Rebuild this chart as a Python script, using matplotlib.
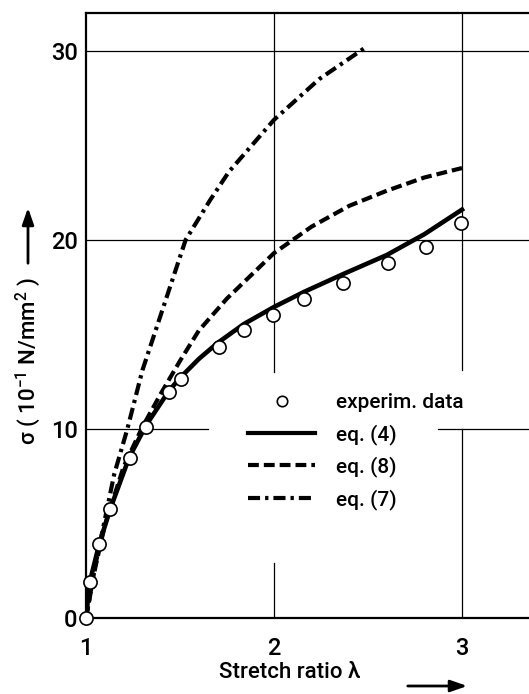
import matplotlib
matplotlib.use("Agg")
import matplotlib.pyplot as plt
from matplotlib.lines import Line2D

plt.rcParams['font.family'] = ['Roboto', 'DejaVu Sans']
plt.rcParams['font.weight'] = 'medium'
plt.rcParams['mathtext.fontset'] = 'custom'
plt.rcParams['mathtext.rm'] = 'Roboto:medium'

# experimental data
exp_x = [1.0, 1.02, 1.07, 1.13, 1.234, 1.32, 1.443, 1.503, 1.709, 1.84,
         1.993, 2.161, 2.369, 2.608, 2.809, 2.993]
exp_y = [0.0, 1.92, 3.9, 5.75, 8.45, 10.12, 11.97, 12.63, 14.35, 15.24,
         16.03, 16.86, 17.71, 18.77, 19.6, 20.9]

# eq. (4)
eq4_x = [1.0, 1.02, 1.07, 1.13, 1.23, 1.32, 1.44, 1.5, 1.6, 1.7, 1.84, 2.0,
         2.16, 2.37, 2.6, 2.8, 3.0]
eq4_y = [0.0, 1.9, 3.9, 5.8, 8.5, 10.2, 12.0, 12.7, 13.7, 14.55, 15.55, 16.45,
         17.25, 18.2, 19.2, 20.3, 21.6]

# eq. (8)
eq8_x = [1.0, 1.05, 1.1, 1.2, 1.3, 1.4, 1.5, 1.6, 1.75, 2.0, 2.2, 2.4, 2.6,
         2.8, 3.0]
eq8_y = [0.0, 2.7, 4.9, 8.0, 10.1, 11.9, 13.6, 15.2, 16.9, 19.3, 20.7, 21.8,
         22.6, 23.3, 23.8]

# eq. (7)
eq7_x = [1.0, 1.05, 1.1, 1.15, 1.22, 1.3, 1.4, 1.53, 1.66, 1.76, 2.0, 2.24,
         2.49]
eq7_y = [0.0, 2.8, 5.2, 7.6, 10.0, 13.1, 16.1, 20.0, 22.1, 23.6, 26.35,
         28.5, 30.2]

xticks = [1, 2, 3]
yticks = [0, 10, 20, 30]
legend_labels = ['experim. data', 'eq. (4)', 'eq. (8)', 'eq. (7)']

DASH8 = (2.6, 1.2)
DASH7 = (2.9, 1.2, 0.8, 1.2)

W, H = 529, 694
fig = plt.figure(figsize=(W / 100, H / 100), dpi=100)
ax = fig.add_axes([86 / W, (H - 618) / H, 1 - 86 / W, (618 - 13) / H])
xmax = 1 + (W - 86) / 188.0
ax.set_xlim(1, xmax)
ax.set_ylim(0, 32)

for s in ['left', 'top', 'bottom']:
    ax.spines[s].set_linewidth(1.6)
ax.spines['right'].set_visible(False)

# grid lines with gaps where the legend sits
def yf(v):
    return v / 32.0

def xf(v):
    return (v - 1) / (xmax - 1)

gkw = dict(color='black', lw=0.9, zorder=1)
ax.axhline(20, **gkw)
ax.axhline(30, **gkw)
ax.axhline(10, xmin=0, xmax=xf(1.65), **gkw)
ax.axhline(10, xmin=xf(2.87), xmax=1, **gkw)
ax.axvline(2, ymin=0, ymax=yf(2.9), **gkw)
ax.axvline(2, ymin=yf(13.0), ymax=1, **gkw)
ax.axvline(3, ymin=0, ymax=yf(10.0), **gkw)
ax.axvline(3, ymin=yf(13.1), ymax=1, **gkw)

ax.plot(eq7_x, eq7_y, color='black', lw=3.0, dashes=DASH7,
        dash_capstyle='butt', zorder=3)
ax.plot(eq8_x, eq8_y, color='black', lw=3.0, dashes=DASH8,
        dash_capstyle='butt', zorder=3)
ax.plot(eq4_x, eq4_y, color='black', lw=3.3, zorder=4)
ax.plot(exp_x, exp_y, ls='none', marker='o', ms=9.5, mfc='white',
        mec='black', mew=1.2, zorder=5, clip_on=False)

ax.set_xticks(xticks)
ax.set_yticks(yticks)
ax.set_xticklabels([str(t) for t in xticks])
ax.set_yticklabels([str(t) for t in yticks])
ax.tick_params(axis='both', length=0, labelsize=17)
ax.tick_params(axis='x', pad=14)
ax.tick_params(axis='y', pad=6)

handles = [
    Line2D([], [], ls='none', marker='o', ms=7.5, mfc='white', mec='black', mew=1.2),
    Line2D([], [], color='black', lw=3.0),
    Line2D([], [], color='black', lw=3.0, dashes=DASH8, dash_capstyle='butt'),
    Line2D([], [], color='black', lw=3.0, dashes=DASH7, dash_capstyle='butt'),
]
leg = ax.legend(handles, legend_labels, loc='upper left',
                bbox_to_anchor=(238 / W, (H - 383) / H),
                bbox_transform=fig.transFigure, frameon=False,
                fontsize=15, handlelength=3.2, handletextpad=1.0,
                labelspacing=0.55, borderpad=0)

fig.text(290 / W, (H - 673) / H, 'Stretch ratio λ', fontsize=16,
         ha='center', va='center')
ax.annotate('', xy=(470, H - 686), xytext=(405, H - 686),
            xycoords='figure pixels', textcoords='figure pixels',
            arrowprops=dict(arrowstyle='-|>,head_length=1.0,head_width=0.35',
                            color='black', lw=2.0))

fig.text(28 / W, (H - 361) / H, 'σ ( 10$^{-1}$ N/mm$^2$ )', fontsize=16,
         rotation=90, ha='center', va='center')
ax.annotate('', xy=(28, H - 205), xytext=(28, H - 266),
            xycoords='figure pixels', textcoords='figure pixels',
            arrowprops=dict(arrowstyle='-|>,head_length=1.0,head_width=0.35',
                            color='black', lw=2.0))

fig.savefig('out.png', dpi=100, facecolor='white')
